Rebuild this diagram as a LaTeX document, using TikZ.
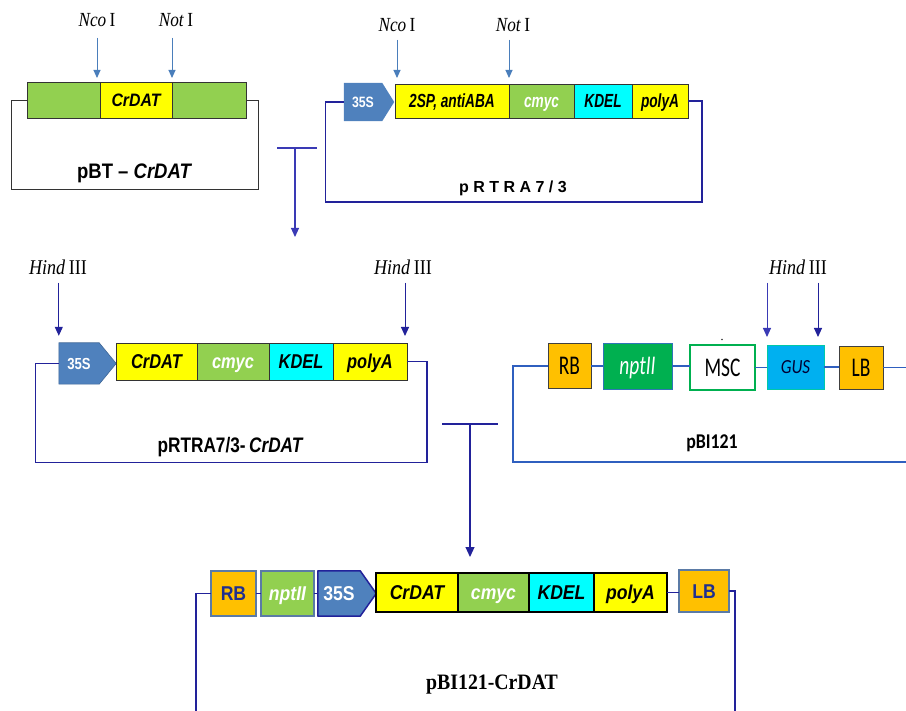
\documentclass[tikz,border=0pt]{standalone}
\usepackage{fontspec}
\usetikzlibrary{arrows.meta,calc,backgrounds}
\setmainfont{Liberation Serif}
\newfontfamily\arA[FakeStretch=0.72]{Liberation Sans}
\newfontfamily\arB[FakeStretch=0.82]{Liberation Sans}
\newfontfamily\arC[FakeStretch=0.88]{Liberation Sans}
\newfontfamily\arD{Liberation Sans}
\newfontfamily\tmA[FakeStretch=0.86]{Liberation Serif}
\newfontfamily\tmB[FakeStretch=0.9]{Liberation Serif}
\newfontfamily\caA[FakeStretch=0.72]{Carlito}
\newfontfamily\caB[FakeStretch=0.85]{Carlito}
\newcommand\fsz[1]{\fontsize{#1}{#1}\selectfont}
\definecolor{lgreen}{HTML}{92D050}
\definecolor{yel}{HTML}{FFFF00}
\definecolor{cyn}{HTML}{00FFFF}
\definecolor{blue35}{HTML}{4F81BD}
\definecolor{navy}{HTML}{22229A}
\definecolor{steel}{HTML}{4A7EBB}
\definecolor{tblue}{HTML}{3A3AB5}
\definecolor{pbiline}{HTML}{2F5FBF}
\definecolor{orng}{HTML}{FFC000}
\definecolor{dgreen}{HTML}{00B050}
\definecolor{gusblue}{HTML}{00B0F0}
\definecolor{graybl}{HTML}{5B7BA6}
\definecolor{lbtext}{HTML}{1F2F8F}
\definecolor{nptborder}{HTML}{2E75B6}
\tikzset{
  seg/.style={draw=black!80, line width=0.7pt, inner sep=0pt, outer sep=0pt, text depth=0pt},
  segA/.style={seg, minimum height=34, text height=13.6, font=\arA\bfseries\itshape\fsz{19}},
  segB/.style={seg, minimum height=37, text height=14.3, font=\arB\bfseries\itshape\fsz{20}},
  segC/.style={draw=black, line width=1.5pt, inner sep=0pt, outer sep=0pt, minimum height=39, text height=14.3, text depth=0pt, font=\arC\bfseries\itshape\fsz{20}},
  pbox/.style={line width=0.9pt, inner sep=0pt, outer sep=0pt, text height=17.4, text depth=0pt, font=\caA\fsz{27}},
  bbox/.style={draw=graybl, line width=1.5pt, inner sep=0pt, outer sep=0pt, minimum height=45, text height=14.3, text depth=0pt, font=\arC\bfseries\fsz{20}},
  enz/.style={font=\tmA\fsz{20}, inner sep=0pt},
  arrS/.style={-{Triangle[length=8pt,width=7pt]}, draw=steel, fill=steel, line width=0.9pt},
  arrN/.style={-{Triangle[length=9pt,width=8pt]}, draw=navy, fill=navy, line width=1pt},
  tconn/.style={draw=tblue, line width=1.1pt},
  bbk/.style={draw=black!80, line width=0.9pt},
  bbn/.style={draw=navy, line width=1.1pt},
  bbp/.style={draw=pbiline, line width=1.1pt},
  bbb/.style={draw=navy, line width=1.8pt},
}
\begin{document}
\begin{tikzpicture}[x=1pt,y=-1pt]
\useasboundingbox (0,0) rectangle (906,711);

% ---------- pBT - CrDAT ----------
\node[seg, fill=lgreen, minimum width=73, minimum height=36] (bta) at (63.5,100) {};
\node[seg, fill=yel, minimum width=72, minimum height=36, text height=12.9, font=\arC\bfseries\itshape\fsz{18}] (btb) at (136,100) {CrDAT};
\node[seg, fill=lgreen, minimum width=74, minimum height=36] (btc) at (209,100) {};
\draw[bbk] (bta.west) -- ++(-16,0) -- ++(0,89) -| ($(btc.east)+(12,0)$) -- (btc.east);
\node[font=\arC\bfseries\fsz{21}] (btl) at (134,173) {pBT – \itshape CrDAT};
\node[enz] (nco1) at (97,20) {\textit{Nco}\,I};
\node[enz] (not1) at (176,20) {\textit{Not}\,I};
\draw[arrS] ($(btb.north west)+(-3,-44)$) -- ($(btb.north west)+(-3,-4)$);
\draw[arrS] ($(btb.north east)+(0,-44)$) -- ($(btb.north east)+(0,-4)$);

% ---------- pRTRA7/3 ----------
\node[inner sep=0pt, minimum width=38, minimum height=38, text height=10.7, text depth=0pt, text=white, font=\arB\bfseries\fsz{15}] (rp) at (363,102) {35S};
\begin{scope}[on background layer]
\fill[blue35] (rp.north west) -- (rp.north east) -- ($(rp.east)+(12,0)$) -- (rp.south east) -- (rp.south west) -- cycle;
\end{scope}
\node[segA, fill=yel, minimum width=114] (ra) at (452,101) {2SP, antiABA};
\node[segA, fill=lgreen, minimum width=65, text=white] (rb) at (541.5,101) {cmyc};
\node[segA, fill=cyn, minimum width=58] (rc) at (603,101) {KDEL};
\node[segA, fill=yel, minimum width=56] (rd) at (660,101) {polyA};
\draw[bbn] (rp.west) -- ++(-18,0) -- ++(0,100) -| ($(rd.east)+(14,0)$) -- (rd.east);
\node[font=\arD\bfseries\fsz{16}] (rl) at (513,188) {p R T R A 7 / 3};
\node[enz] (nco2) at (397,25) {\textit{Nco}\,I};
\node[enz] (not2) at (513,25) {\textit{Not}\,I};
\draw[arrS] ($(ra.north west)+(2,-44)$) -- ($(ra.north west)+(2,-6)$);
\draw[arrS] ($(ra.north east)+(0,-44)$) -- ($(ra.north east)+(0,-6)$);

% ---------- T connector 1 ----------
\coordinate (t1l) at (277,148);
\coordinate (t1r) at (317,148);
\coordinate (t1m) at (295,148);
\coordinate (t1e) at (295,237);
\draw[tconn] (t1l) -- (t1r);
\draw[tconn, -{Triangle[length=9pt,width=8pt]}] (t1m) -- (t1e);

% ---------- pRTRA7/3-CrDAT ----------
\node[inner sep=0pt, minimum width=40, minimum height=41, text height=11.5, text depth=0pt, text=white, font=\arB\bfseries\fsz{16}] (mp) at (79,363.5) {35S};
\begin{scope}[on background layer]
\filldraw[fill=blue35, draw=blue35!80!black, line width=0.6pt] (mp.north west) -- (mp.north east) -- ($(mp.east)+(17,0)$) -- (mp.south east) -- (mp.south west) -- cycle;
\end{scope}
\node[segB, fill=yel, minimum width=81] (ma) at (156.5,361.5) {CrDAT};
\node[segB, fill=lgreen, minimum width=72, text=white] (mb) at (233,361.5) {cmyc};
\node[segB, fill=cyn, minimum width=64] (mc) at (301,361.5) {KDEL};
\node[segB, fill=yel, minimum width=74] (md) at (370,361.5) {polyA};
\draw[bbn] (mp.west) -- ++(-23,0) -- ++(0,99) -| ($(md.east)+(20,0)$) -- (md.east);
\node[font=\arB\bfseries\fsz{21}] (ml) at (230,447) {pRTRA7/3-\,\itshape CrDAT};
\node[enz, font=\tmA\fsz{21}] (h1) at (58,267) {\textit{Hind}\,III};
\node[enz, font=\tmA\fsz{21}] (h2) at (403,267) {\textit{Hind}\,III};
\draw[arrN] ($(mp.north west)+(0,-60)$) -- ($(mp.north west)+(0,-7)$);
\draw[arrN] ($(md.north east)+(-2,-60)$) -- ($(md.north east)+(-2,-7)$);

% ---------- T connector 2 ----------
\coordinate (t2l) at (442,424);
\coordinate (t2r) at (498,424);
\coordinate (t2m) at (470,424);
\coordinate (t2e) at (470,557);
\draw[tconn, draw=navy] (t2l) -- (t2r);
\draw[tconn, draw=navy, -{Triangle[length=10pt,width=9pt]}] (t2m) -- (t2e);

% ---------- pBI121 ----------
\node[pbox, fill=orng, draw=black!75, minimum width=43, minimum height=45] (ba) at (569.5,366) {RB};
\node[pbox, fill=dgreen, draw=nptborder, minimum width=69, minimum height=46, text=white, font=\caA\itshape\fsz{27}] (bb) at (637.5,366) {nptII};
\node[pbox, fill=white, draw=dgreen, line width=1.3pt, minimum width=65, minimum height=45] (bc) at (722.5,367.5) {MSC};
\node[pbox, fill=gusblue, draw=gusblue!70!green, minimum width=57, minimum height=44, text height=13, text=black!80!blue, font=\caB\itshape\fsz{20}] (bd) at (795.5,367) {GUS};
\node[pbox, fill=orng, draw=black!75, minimum width=44, minimum height=43] (be) at (861,367.5) {LB};
\coordinate (redge) at (906,368);
\coordinate (pbl) at (513,462);
\coordinate (pbr) at (906,462);
\draw[bbp] (ba.east) -- (ba.east -| bb.west);
\draw[bbp] (bb.east) -- (bb.east -| bc.west);
\draw[bbp] (bc.east) -- (bc.east -| bd.west);
\draw[bbp] (bd.east) -- (bd.east -| be.west);
\draw[bbp] (be.east) -- (be.east -| redge);
\draw[bbp] (ba.west) -| (pbl) -- (pbr);
\node[font=\caB\bfseries\fsz{21}] (bl) at (712,443) {pBI121};
\node[enz, font=\tmA\fsz{21}] (h3) at (798,267) {\textit{Hind}\,III};
\draw[arrN, draw=tblue, fill=tblue] ($(bd.north west)+(0,-62)$) -- ($(bd.north west)+(0,-8)$);
\draw[arrN] ($(bd.north east)+(-6,-62)$) -- ($(bd.north east)+(-6,-8)$);
\coordinate (tick) at (722,339.5);
\fill[black!80] (tick) circle (0.9);

% ---------- pBI121-CrDAT ----------
\node[bbox, fill=orng, minimum width=45, text=lbtext] (fa) at (233.5,593.5) {RB};
\node[bbox, fill=lgreen, minimum width=53, text=white, font=\arC\bfseries\itshape\fsz{20}] (fb) at (287.5,593.5) {nptII};
\node[inner sep=0pt, minimum width=42, minimum height=45, text height=14.3, text depth=0pt, text=white, font=\arC\bfseries\fsz{20}] (fp) at (339,593.5) {35S};
\begin{scope}[on background layer]
\filldraw[fill=blue35, draw=navy, line width=1.5pt, line join=round] (fp.north west) -- (fp.north east) -- ($(fp.east)+(16,0)$) -- (fp.south east) -- (fp.south west) -- cycle;
\end{scope}
\node[segC, fill=yel, minimum width=82] (fc) at (417,592.5) {CrDAT};
\node[segC, fill=lgreen, minimum width=71, text=white] (fd) at (493.5,592.5) {cmyc};
\node[segC, fill=cyn, minimum width=65] (fe) at (561.5,592.5) {KDEL};
\node[segC, fill=yel, minimum width=73] (ff) at (630.5,592.5) {polyA};
\node[bbox, fill=orng, minimum width=50, minimum height=42, text=lbtext] (fg) at (704,591) {LB};
\coordinate (fbl) at (196,711);
\coordinate (fbr) at (735,711);
\draw[bbb] (fa.east) -- (fa.east -| fb.west);
\draw[bbb] (fb.east) -- (fb.east -| fp.west);
\draw[bbb] (ff.east) -- (ff.east -| fg.west);
\draw[bbb] (fa.west) -| (fbl);
\draw[bbb] (fg.east) -| (fbr);
\node[font=\tmB\bfseries\fsz{22}] (fl) at (492,685) {pBI121-CrDAT};
\end{tikzpicture}
\end{document}
